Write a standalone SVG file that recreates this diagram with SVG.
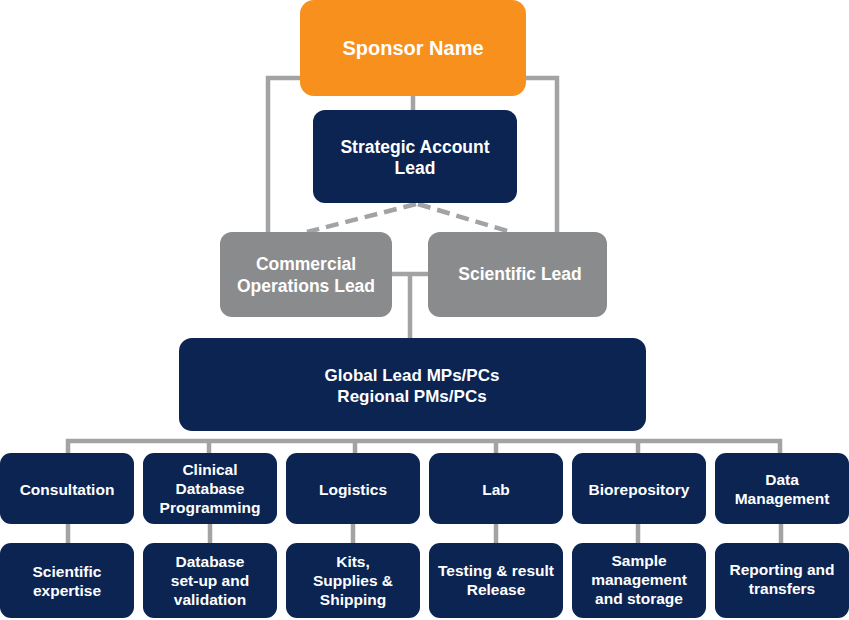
<svg xmlns="http://www.w3.org/2000/svg" width="849" height="620" viewBox="0 0 849 620">
<style>
.ln{stroke:#A3A3A3;stroke-width:4.5;fill:none}
.dash{stroke:#A3A3A3;stroke-width:4.5;fill:none;stroke-dasharray:13 7}
.navy{fill:#0B2452}
.gray{fill:#8A8B8D}
.orange{fill:#F8901E}
text{font-family:"Liberation Sans",Arial,sans-serif;font-weight:bold;fill:#FFFFFF;text-anchor:middle}
.t20{font-size:20px}
.t17{font-size:17.5px}
.t16{font-size:17px}
.t15{font-size:15.5px}
</style>
<rect width="849" height="620" fill="#FFFFFF"/>
<g id="connectors">
<polyline class="ln" points="300,78 268,78 268,233"/>
<polyline class="ln" points="526,78 557,78 557,233"/>
<line class="ln" x1="413" y1="95" x2="413" y2="111"/>
<line class="dash" x1="416" y1="204" x2="307" y2="232"/>
<line class="dash" x1="418" y1="204" x2="511" y2="232"/>
<line class="ln" x1="392" y1="274" x2="428" y2="274"/>
<line class="ln" x1="410" y1="274" x2="410" y2="339"/>
<polyline class="ln" points="68,454 68,441 780,441 780,454"/>
<line class="ln" x1="209" y1="441" x2="209" y2="454"/>
<line class="ln" x1="355" y1="441" x2="355" y2="454"/>
<line class="ln" x1="496" y1="441" x2="496" y2="454"/>
<line class="ln" x1="638" y1="441" x2="638" y2="454"/>
<line class="ln" x1="68" y1="523" x2="68" y2="544"/>
<line class="ln" x1="210" y1="523" x2="210" y2="544"/>
<line class="ln" x1="353" y1="523" x2="353" y2="544"/>
<line class="ln" x1="496" y1="523" x2="496" y2="544"/>
<line class="ln" x1="638" y1="523" x2="638" y2="544"/>
<line class="ln" x1="781" y1="523" x2="781" y2="544"/>
</g>
<g id="sponsor"><rect class="orange" x="300" y="0" width="226" height="96" rx="14"/><text class="t20" x="413" y="55">Sponsor Name</text></g>
<g id="sal"><rect class="navy" x="313" y="110" width="204" height="93" rx="12"/><text class="t17" x="415" y="153">Strategic Account</text><text class="t17" x="415" y="174">Lead</text></g>
<g id="commercial"><rect class="gray" x="220" y="232" width="172" height="85" rx="12"/><text class="t17" x="306" y="270">Commercial</text><text class="t17" x="306" y="292">Operations Lead</text></g>
<g id="scientific"><rect class="gray" x="428" y="232" width="179" height="85" rx="12"/><text class="t17" x="520" y="280">Scientific Lead</text></g>
<g id="global"><rect class="navy" x="179" y="338" width="467" height="93" rx="13"/><text class="t16" x="412" y="381">Global Lead MPs/PCs</text><text class="t16" x="412" y="402">Regional PMs/PCs</text></g>
<g id="consultation"><rect class="navy" x="0" y="453" width="134" height="71" rx="11"/><text class="t15" x="67" y="495">Consultation</text></g>
<g id="clinical"><rect class="navy" x="143" y="453" width="134" height="71" rx="11"/><text class="t15" x="210" y="475">Clinical</text><text class="t15" x="210" y="494">Database</text><text class="t15" x="210" y="513">Programming</text></g>
<g id="logistics"><rect class="navy" x="286" y="453" width="134" height="71" rx="11"/><text class="t15" x="353" y="495">Logistics</text></g>
<g id="lab"><rect class="navy" x="429" y="453" width="134" height="71" rx="11"/><text class="t15" x="496" y="495">Lab</text></g>
<g id="biorepository"><rect class="navy" x="572" y="453" width="134" height="71" rx="11"/><text class="t15" x="639" y="495">Biorepository</text></g>
<g id="datamgmt"><rect class="navy" x="715" y="453" width="134" height="71" rx="11"/><text class="t15" x="782" y="485">Data</text><text class="t15" x="782" y="504">Management</text></g>
<g id="expertise"><rect class="navy" x="0" y="543" width="134" height="75" rx="11"/><text class="t15" x="67" y="577">Scientific</text><text class="t15" x="67" y="596">expertise</text></g>
<g id="dbsetup"><rect class="navy" x="143" y="543" width="134" height="75" rx="11"/><text class="t15" x="210" y="567">Database</text><text class="t15" x="210" y="586">set-up and</text><text class="t15" x="210" y="605">validation</text></g>
<g id="kits"><rect class="navy" x="286" y="543" width="134" height="75" rx="11"/><text class="t15" x="353" y="567">Kits,</text><text class="t15" x="353" y="586">Supplies &amp;</text><text class="t15" x="353" y="605">Shipping</text></g>
<g id="testing"><rect class="navy" x="429" y="543" width="134" height="75" rx="11"/><text class="t15" x="496" y="576">Testing &amp; result</text><text class="t15" x="496" y="595">Release</text></g>
<g id="sample"><rect class="navy" x="572" y="543" width="134" height="75" rx="11"/><text class="t15" x="639" y="566">Sample</text><text class="t15" x="639" y="585">management</text><text class="t15" x="639" y="604">and storage</text></g>
<g id="reporting"><rect class="navy" x="715" y="543" width="134" height="75" rx="11"/><text class="t15" x="782" y="575">Reporting and</text><text class="t15" x="782" y="594">transfers</text></g>
</svg>
